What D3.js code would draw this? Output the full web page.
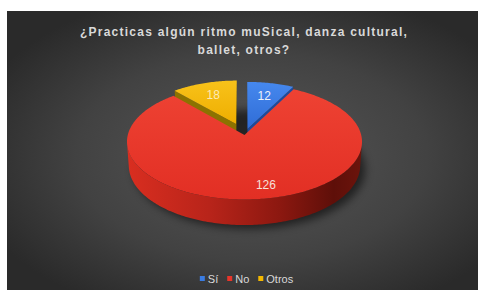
<!DOCTYPE html>
<html>
<head>
<meta charset="utf-8">
<script src="https://cdn.jsdelivr.net/npm/d3@7/dist/d3.min.js"></script>
<style>
  html, body { margin: 0; padding: 0; background: #ffffff; }
  svg { display: block; }
</style>
</head>
<body>
<svg id="chart" width="478" height="290"></svg>
<script>
// ---- data ----
const categories = ["Sí", "No", "Otros"];
const values = [12, 126, 18];
const colors = ["#3a7ce2", "#e8352a", "#f4b800"];
const titleLines = ["¿Practicas algún ritmo muSical, danza cultural,", "ballet, otros?"];

// ---- layout constants ----
const W = 478, H = 290;
const svg = d3.select("#chart");
const defs = svg.append("defs");

// background panel gradient
const bg = defs.append("radialGradient").attr("id", "bg")
  .attr("cx", "52%").attr("cy", "52%").attr("r", "62%");
bg.append("stop").attr("offset", "0%").attr("stop-color", "#575757");
bg.append("stop").attr("offset", "60%").attr("stop-color", "#424242");
bg.append("stop").attr("offset", "100%").attr("stop-color", "#2a2a2a");
svg.append("rect").attr("x", 7).attr("y", 11).attr("width", W - 7).attr("height", H - 11)
  .attr("fill", "url(#bg)");

// perspective projection of the pie plane
const phi = 29.2 * Math.PI / 180, Ld = 7.46, F = 870.6, cx0 = 244.5, cy0 = 135, depthH = 0.235;
const sinP = Math.sin(phi), cosP = Math.cos(phi);
function proj(X, Z, drop) {
  const den = Ld + drop * sinP + Z * cosP;
  return [cx0 + F * X / den, cy0 - F * (Z * sinP - drop * cosP) / den];
}
const camX = 0, camY = Ld * sinP, camZ = -Ld * cosP;

// per-slice explode distance and scale (Excel-like 3D look)
const explode = [0.11, 0, 0.21];
const sliceScale = [0.94, 1, 0.88];
const sideDark = ["#1f4a9a", "#8a1a10", "#8c7200"];

const pie = d3.pie().sort(null).value(d => d);
const arcs = pie(values);

const line = d3.line();

// side gradient for red body
const sg = defs.append("linearGradient").attr("id", "sideRed")
  .attr("gradientUnits", "userSpaceOnUse").attr("x1", 127).attr("x2", 362).attr("y1", 0).attr("y2", 0);
[["0%", "#d92e20"], ["35%", "#b8241a"], ["65%", "#8c1810"], ["88%", "#5e0f09"], ["100%", "#6c140c"]]
  .forEach(s => sg.append("stop").attr("offset", s[0]).attr("stop-color", s[1]));

// top face gradients
const topStops = [["#4688ee", "#2f6cd6"], ["#ee4233", "#e22f24"], ["#f8c21a", "#eeae00"]];
topStops.forEach((s, i) => {
  const g = defs.append("linearGradient").attr("id", "top" + i)
    .attr("x1", 0).attr("y1", 0).attr("x2", 0).attr("y2", 1);
  g.append("stop").attr("offset", "0%").attr("stop-color", s[0]);
  g.append("stop").attr("offset", "100%").attr("stop-color", s[1]);
});

// shadow filter
defs.append("filter").attr("id", "blur").attr("x", "-20%").attr("y", "-20%").attr("width", "140%").attr("height", "140%")
  .append("feGaussianBlur").attr("stdDeviation", 4);

function geom(i) {
  const a = arcs[i];
  const mid = (a.startAngle + a.endAngle) / 2;
  const ox = explode[i] * Math.sin(mid), oz = explode[i] * Math.cos(mid);
  const s = sliceScale[i];
  const rim = (t, r, drop) => proj(ox + s * r * Math.sin(t), oz + s * r * Math.cos(t), drop * s);
  return { a, mid, ox, oz, s, rim };
}

const pieG = svg.append("g");

// shadow under the main body
(function () {
  const g = geom(1);
  const pts = d3.range(0, 361, 3).map(d => g.rim(d * Math.PI / 180, 1, depthH));
  pieG.append("path").attr("d", line(pts) + "Z")
    .attr("transform", "translate(5,4)")
    .attr("fill", "#000").attr("opacity", 0.55).attr("filter", "url(#blur)");
})();

function drawSlice(i) {
  const g = geom(i);
  const a0 = g.a.startAngle, a1 = g.a.endAngle;
  const h = depthH;
  const grp = pieG.append("g");
  const steps = Math.max(8, Math.ceil((a1 - a0) * 180 / Math.PI));
  const ts = d3.range(steps + 1).map(k => a0 + (a1 - a0) * k / steps);

  // radial faces
  [[a0, -1], [a1, 1]].forEach(([t, sign]) => {
    const nx = sign * Math.cos(t), nz = -sign * Math.sin(t);
    const dot = (camX - g.ox) * nx + (camZ - g.oz) * nz;
    if (dot > 0) {
      const pts = [g.rim(t, 0, 0), g.rim(t, 1, 0), g.rim(t, 1, h), g.rim(t, 0, h)];
      grp.append("path").attr("d", line(pts) + "Z").attr("fill", sideDark[i]);
    }
  });

  // outer curved side: visible portions
  let run = [];
  const runs = [];
  ts.forEach(t => {
    const X = g.ox + g.s * Math.sin(t), Z = g.oz + g.s * Math.cos(t);
    const dot = (camX - X) * Math.sin(t) + (camZ - Z) * Math.cos(t);
    if (dot > 0) run.push(t); else if (run.length) { runs.push(run); run = []; }
  });
  if (run.length) runs.push(run);
  runs.forEach(r => {
    if (r.length < 2) return;
    const top = r.map(t => g.rim(t, 1, 0));
    const bot = r.slice().reverse().map(t => g.rim(t, 1, h));
    grp.append("path").attr("d", line(top.concat(bot)) + "Z")
      .attr("fill", i === 1 ? "url(#sideRed)" : sideDark[i]);
  });

  // top face
  const topPts = [g.rim(0, 0, 0)].concat(ts.map(t => g.rim(t, 1, 0)));
  grp.append("path").attr("d", line(topPts) + "Z").attr("fill", "url(#top" + i + ")");
}

// back slices first, then the big front slice
[2, 0, 1].forEach(drawSlice);

// data labels
const labelR = [0.7, 0.8, 0.7];
const labelDx = [0, 9, 0];
const labelColor = ["#eef2fa", "#f6e0da", "#fbeab8"];
arcs.forEach((a, i) => {
  const g = geom(i);
  const p = g.rim(g.mid, labelR[i], 0);
  svg.append("text").attr("x", p[0] + labelDx[i]).attr("y", p[1] + 4)
    .attr("text-anchor", "middle")
    .attr("font-family", "Liberation Sans, Arial, sans-serif").attr("font-size", 12)
    .attr("fill", labelColor[i]).text(values[i]);
});

// title
const titleBase = [36, 54];
const titleTarget = 328;
const t1 = svg.append("text").attr("font-family", "Liberation Sans, Arial, sans-serif")
  .attr("font-size", 12).attr("font-weight", "bold").attr("fill", "#d9d9d9")
  .attr("text-anchor", "middle");
titleLines.forEach((s, k) => {
  t1.append("tspan").attr("x", 244).attr("y", titleBase[k]).text(s);
});
const tsp = t1.selectAll("tspan").nodes();
const w0 = tsp[0].getComputedTextLength();
const ls = (titleTarget - w0) / titleLines[0].length;
t1.attr("letter-spacing", ls.toFixed(2));

// legend
const legend = svg.append("g");
const legendY = 283, legendCenter = 246.5;
const items = categories.map((c, i) => {
  const g = legend.append("g");
  g.append("rect").attr("x", 0).attr("y", -7).attr("width", 5).attr("height", 5).attr("fill", colors[i]);
  const tx = g.append("text").attr("x", 8).attr("y", 0)
    .attr("font-family", "Liberation Sans, Arial, sans-serif").attr("font-size", 11)
    .attr("fill", "#d9d9d9").text(c);
  return { g, w: 8 + tx.node().getComputedTextLength() };
});
const gap = 9;
const total = d3.sum(items, d => d.w) + gap * (items.length - 1);
let xPos = legendCenter - total / 2;
items.forEach(it => {
  it.g.attr("transform", `translate(${xPos},${legendY})`);
  xPos += it.w + gap;
});
</script>
</body>
</html>
